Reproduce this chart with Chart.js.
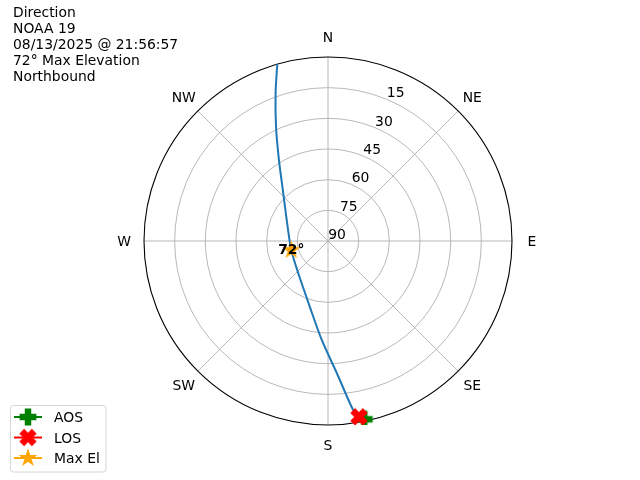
<!DOCTYPE html>
<html><head><meta charset="utf-8">
<script src="https://cdn.jsdelivr.net/npm/chart.js@4/dist/chart.umd.min.js"></script>
<style>html,body{margin:0;padding:0;background:#fff;} #wrap{position:relative;width:640px;height:480px;}</style>
</head><body><div id="wrap"><canvas id="c" width="640" height="480"></canvas></div>
<script>
// ---- data ----
const titleLines = ['Direction', 'NOAA 19', '08/13/2025 @ 21:56:57', '72° Max Elevation', 'Northbound'];
const compassLabels = ['N', 'NE', 'E', 'SE', 'S', 'SW', 'W', 'NW'];
const compassAngles = [0, 45, 90, 135, 180, 225, 270, 315];
const ringElevations = [90, 75, 60, 45, 30, 15];
const ringTickLabels = ['90', '75', '60', '45', '30', '15'];
const passAz = [344.0, 340.5, 335.5, 328.8, 317.0, 289.2, 256.0, 222.9, 195.3, 183.6, 176.2, 171.9, 170.4];
const passEl = [0.0, 13.2, 28.7, 43.7, 57.9, 69.1, 71.5, 68.6, 56.5, 41.5, 25.3, 8.0, 2.2];
const aosAz = [168.5], aosEl = [1.0];
const losAz = [170.0], losEl = [2.7];
const maxAz = [256.0], maxEl = [71.5];
const maxLabel = '72°';
const legendNames = ['AOS', 'LOS', 'Max El'];

// ---- helpers ----
const FONT = '"DejaVu Sans", sans-serif';
function toXY(az, el) {
  const r = 90 - el, t = az * Math.PI / 180;
  return { x: r * Math.sin(t), y: r * Math.cos(t) };
}
function pts(azs, els) { return azs.map((a, i) => toXY(a, els[i])); }

function makeMarker(shape, color, s) {
  const pad = 2, size = Math.ceil(s + pad * 2);
  const cv = document.createElement('canvas');
  cv.width = size; cv.height = size;
  const g = cv.getContext('2d');
  g.translate(size / 2, size / 2);
  let verts;
  if (shape === 'P') {
    verts = [[-1,-3],[1,-3],[1,-1],[3,-1],[3,1],[1,1],[1,3],[-1,3],[-1,1],[-3,1],[-3,-1],[-1,-1]].map(v => [v[0]/6*s, v[1]/6*s]);
  } else if (shape === 'X') {
    verts = [[-1,-2],[0,-1],[1,-2],[2,-1],[1,0],[2,1],[1,2],[0,1],[-1,2],[-2,1],[-1,0],[-2,-1]].map(v => [v[0]/4*s, v[1]/4*s]);
  } else {
    verts = [];
    for (let i = 0; i < 10; i++) {
      const rr = (i % 2 === 0 ? 0.5 : 0.5 * 0.381966) * s;
      const a = i * Math.PI / 5;
      verts.push([rr * Math.sin(a), -rr * Math.cos(a)]);
    }
  }
  g.beginPath();
  verts.forEach((v, i) => i ? g.lineTo(v[0], v[1]) : g.moveTo(v[0], v[1]));
  g.closePath();
  g.fillStyle = color; g.strokeStyle = color; g.lineWidth = 1.3; g.lineJoin = 'miter';
  g.fill(); g.stroke();
  return cv;
}
const MS = 15.5;
const aosImg = makeMarker('P', 'green', MS);
const losImg = makeMarker('X', 'red', MS);
const maxImg = makeMarker('*', 'orange', MS);
const markerColors = ['green', 'red', 'orange'];
const markerImgs = [aosImg, losImg, maxImg];

const polarPlugin = {
  id: 'polarGrid',
  beforeDatasetsDraw(chart) {
    const ctx = chart.ctx, xs = chart.scales.x, ys = chart.scales.y;
    const cx = xs.getPixelForValue(0), cy = ys.getPixelForValue(0);
    const rad = v => xs.getPixelForValue(v) - cx;
    ctx.save();
    ctx.strokeStyle = '#b0b0b0'; ctx.lineWidth = 0.9;
    ringElevations.forEach(el => {
      const r = rad(90 - el);
      if (r <= 0) return;
      ctx.beginPath(); ctx.arc(cx, cy, r, 0, Math.PI * 2); ctx.stroke();
    });
    compassAngles.forEach(a => {
      const p = toXY(a, 0);
      ctx.beginPath(); ctx.moveTo(cx, cy);
      ctx.lineTo(xs.getPixelForValue(p.x), ys.getPixelForValue(p.y)); ctx.stroke();
    });
    ctx.strokeStyle = '#000'; ctx.lineWidth = 1.1;
    ctx.beginPath(); ctx.arc(cx, cy, rad(90), 0, Math.PI * 2); ctx.stroke();
    ctx.fillStyle = '#000'; ctx.font = '13.9px ' + FONT;
    ctx.textAlign = 'center'; ctx.textBaseline = 'alphabetic';
    const R = rad(90) + 20;
    compassLabels.forEach((lab, i) => {
      const t = compassAngles[i] * Math.PI / 180;
      ctx.fillText(lab, cx + R * Math.sin(t), cy - R * Math.cos(t) + 5);
    });
    ringElevations.forEach((el, i) => {
      const p = toXY(22.5, el);
      const px = xs.getPixelForValue(p.x), py = ys.getPixelForValue(p.y);
      ctx.fillText(ringTickLabels[i], px + 9, py - 7 + 5);
    });
    ctx.restore();
  },
  afterDatasetsDraw(chart) {
    const ctx = chart.ctx, xs = chart.scales.x, ys = chart.scales.y;
    const p = toXY(maxAz[0], maxEl[0]);
    ctx.save();
    ctx.fillStyle = '#000'; ctx.font = 'bold 13.9px ' + FONT;
    ctx.textAlign = 'center'; ctx.textBaseline = 'alphabetic';
    ctx.fillText(maxLabel, xs.getPixelForValue(p.x), ys.getPixelForValue(p.y) + 4);
    ctx.restore();
  },
  afterDraw(chart) {
    const ctx = chart.ctx;
    ctx.save();
    ctx.fillStyle = '#000'; ctx.font = '13.9px ' + FONT;
    ctx.textAlign = 'left'; ctx.textBaseline = 'alphabetic';
    titleLines.forEach((t, i) => ctx.fillText(t, 13, 17 + i * 16));
    const lx = 10.5, ly = 405.5, lw = 95.5, lh = 66.5, rr = 3;
    ctx.beginPath();
    ctx.moveTo(lx + rr, ly); ctx.lineTo(lx + lw - rr, ly); ctx.quadraticCurveTo(lx + lw, ly, lx + lw, ly + rr);
    ctx.lineTo(lx + lw, ly + lh - rr); ctx.quadraticCurveTo(lx + lw, ly + lh, lx + lw - rr, ly + lh);
    ctx.lineTo(lx + rr, ly + lh); ctx.quadraticCurveTo(lx, ly + lh, lx, ly + lh - rr);
    ctx.lineTo(lx, ly + rr); ctx.quadraticCurveTo(lx, ly, lx + rr, ly); ctx.closePath();
    ctx.fillStyle = 'rgba(255,255,255,0.8)'; ctx.fill();
    ctx.strokeStyle = '#d6d6d6'; ctx.lineWidth = 1; ctx.stroke();
    const rows = [417, 437.5, 458];
    legendNames.forEach((name, i) => {
      const y = rows[i];
      ctx.strokeStyle = markerColors[i]; ctx.lineWidth = 2;
      ctx.beginPath(); ctx.moveTo(14, y); ctx.lineTo(42, y); ctx.stroke();
      const img = markerImgs[i];
      ctx.drawImage(img, 28 - img.width / 2, y - img.height / 2);
      ctx.fillStyle = '#000';
      ctx.fillText(name, 54, y + 5);
    });
    ctx.restore();
  }
};

new Chart(document.getElementById('c'), {
  type: 'scatter',
  data: {
    datasets: [
      { label: 'Pass', data: pts(passAz, passEl), showLine: true, borderColor: '#1f77b4', borderWidth: 2,
        pointRadius: 0, tension: 0.3, order: 4 },
      { label: legendNames[0], data: pts(aosAz, aosEl), pointStyle: aosImg, pointRadius: MS / 2, order: 3 },
      { label: legendNames[1], data: pts(losAz, losEl), pointStyle: losImg, pointRadius: MS / 2, order: 2 },
      { label: legendNames[2], data: pts(maxAz, maxEl), pointStyle: maxImg, pointRadius: MS / 2, order: 1 }
    ]
  },
  options: {
    responsive: false, animation: false, devicePixelRatio: 1,
    layout: { padding: { left: 144, right: 128, top: 57, bottom: 55 } },
    scales: {
      x: { type: 'linear', min: -90, max: 90, display: false },
      y: { type: 'linear', min: -90, max: 90, display: false }
    },
    plugins: { legend: { display: false }, tooltip: { enabled: false } }
  },
  plugins: [polarPlugin]
});
</script></body></html>
